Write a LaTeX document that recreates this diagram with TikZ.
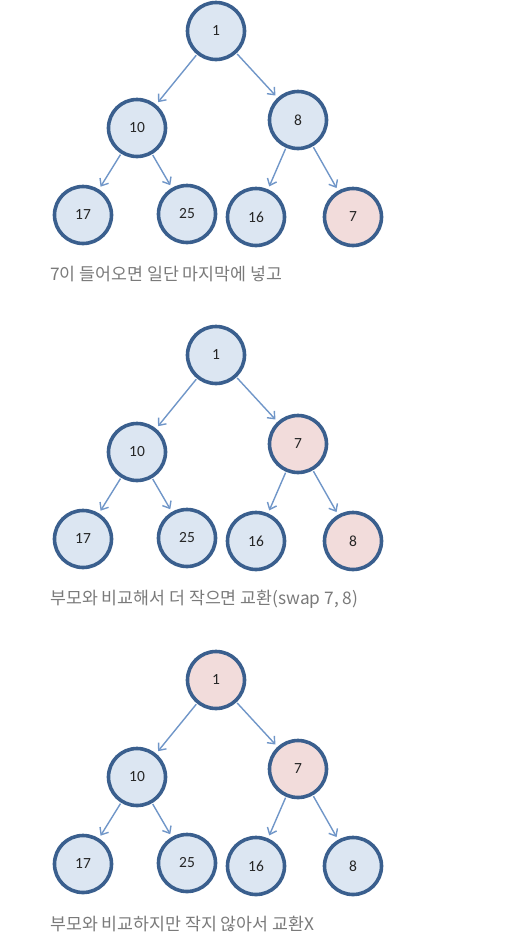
\documentclass[tikz,border=0pt]{standalone}
\usepackage{fontspec}
\setmainfont{Carlito}
\newfontfamily\krfont{Noto Sans CJK KR}
\usetikzlibrary{arrows.meta}
\definecolor{nodefill}{HTML}{DCE6F2}
\definecolor{pinkfill}{HTML}{F2DCDB}
\definecolor{nodeline}{HTML}{3A5F8E}
\definecolor{edgecol}{HTML}{7096C8}
\definecolor{captioncol}{HTML}{7A7A7A}
\definecolor{numcol}{HTML}{262626}
\tikzset{
  heapnode/.style={circle, draw=nodeline, line width=3.6pt, fill=nodefill, minimum size=57pt, inner sep=0pt, font=\fontsize{15.5}{15.5}\selectfont, text=numcol},
  hot/.style={fill=pinkfill},
  edge/.style={draw=edgecol, line width=1.4pt, -{Straight Barb[length=6pt,width=10pt]}, shorten >=3pt, shorten <=1pt},
  caption/.style={anchor=west, inner sep=0pt, text=captioncol, font=\krfont\fontsize{17.3}{17.3}\selectfont}
}
\begin{document}
\begin{tikzpicture}[x=1pt,y=-1pt]
\useasboundingbox (0,0) rectangle (517,940);
% Tree 1
\node[heapnode] (a1) at (216,31) {1};
\node[heapnode] (a10) at (137,128) {10};
\node[heapnode] (a8) at (298,120) {8};
\node[heapnode] (a17) at (83,215) {17};
\node[heapnode] (a25) at (187,214) {25};
\node[heapnode] (a16) at (256,217) {16};
\node[heapnode,hot] (a7) at (353,217) {7};
\draw[edge] (a1) -- (a10);
\draw[edge] (a1) -- (a8);
\draw[edge] (a10) -- (a17);
\draw[edge] (a10) -- (a25);
\draw[edge] (a8) -- (a16);
\draw[edge] (a8) -- (a7);
\node[caption] (c1) at (50,274) {7이 들어오면 일단 마지막에 넣고};
% Tree 2
\node[heapnode] (b1) at (216,355) {1};
\node[heapnode] (b10) at (137,452) {10};
\node[heapnode,hot] (b7) at (298,444) {7};
\node[heapnode] (b17) at (83,539) {17};
\node[heapnode] (b25) at (187,538) {25};
\node[heapnode] (b16) at (256,541) {16};
\node[heapnode,hot] (b8) at (353,541) {8};
\draw[edge] (b1) -- (b10);
\draw[edge] (b1) -- (b7);
\draw[edge] (b10) -- (b17);
\draw[edge] (b10) -- (b25);
\draw[edge] (b7) -- (b16);
\draw[edge] (b7) -- (b8);
\node[caption] (c2) at (50,599) {부모와 비교해서 더 작으면 교환(swap 7, 8)};
% Tree 3
\node[heapnode,hot] (d1) at (216,680) {1};
\node[heapnode] (d10) at (137,777) {10};
\node[heapnode,hot] (d7) at (298,769) {7};
\node[heapnode] (d17) at (83,864) {17};
\node[heapnode] (d25) at (187,863) {25};
\node[heapnode] (d16) at (256,866) {16};
\node[heapnode] (d8) at (353,866) {8};
\draw[edge] (d1) -- (d10);
\draw[edge] (d1) -- (d7);
\draw[edge] (d10) -- (d17);
\draw[edge] (d10) -- (d25);
\draw[edge] (d7) -- (d16);
\draw[edge] (d7) -- (d8);
\node[caption] (c3) at (50,924) {부모와 비교하지만 작지 않아서 교환X};
\end{tikzpicture}
\end{document}
